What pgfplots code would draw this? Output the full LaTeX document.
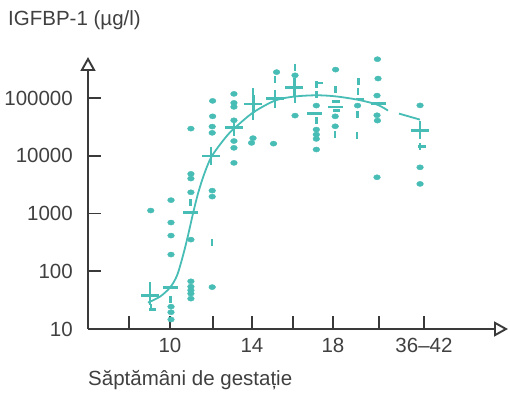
\documentclass[border=0pt]{standalone}
\usepackage{fontspec}
\setmainfont{Liberation Sans}
\usepackage{pgfplots}
\pgfplotsset{compat=1.18}
\usetikzlibrary{arrows.meta}
\definecolor{teal1}{RGB}{72,189,181}
\definecolor{axgray}{RGB}{58,58,58}
\definecolor{txtgray}{RGB}{64,64,64}
\begin{document}
\begin{tikzpicture}
\useasboundingbox (-88bp,-65bp) rectangle (422bp,329bp);
\begin{axis}[
  at={(0,0)}, anchor=south west,
  width=420bp, height=272bp, scale only axis,
  xmin=6, xmax=26.49,
  ymode=log, ymin=10, ymax=517600,
  clip=false,
  axis lines=left,
  axis line style={line width=1.9bp, draw=axgray, -{Triangle[open, length=14bp, width=15bp, line width=1.9bp]}},
  tick align=inside, major tick length=13bp,
  tick style={line width=1.6bp, draw=axgray},
  yminorticks=false, xminorticks=false,
  xtick={8,10,12.1,14,16,17.95,20.2,22.39},
  xticklabels={,10,,14,,18,,36--42},
  ytick={10,100,1000,10000,100000},
  yticklabels={10,100,1000,10000,100000},
  tick label style={font=\fontsize{20.5bp}{24bp}\selectfont, text=txtgray},
  yticklabel style={anchor=east, inner sep=0pt, xshift=-15bp},
  xticklabel style={anchor=north, inner sep=0pt, yshift=-9bp},
]
% fitted curve
\addplot[smooth, teal1, line width=1.8bp, no marks] table[row sep=\\] {
x y \\
8.927 28.7 \\ 9.512 36.4 \\ 10.0 52.2 \\ 10.341 84.2 \\ 10.634 187 \\
10.878 416 \\ 11.122 1000 \\ 11.366 2222 \\ 11.659 4742 \\ 12.0 9343 \\
12.439 15700 \\ 12.829 23400 \\ 13.122 29730 \\ 14.049 56290 \\
15.122 90870 \\ 16.049 106600 \\ 17.122 112300 \\ 18.049 107900 \\
19.122 94560 \\ 20.098 77610 \\ 20.634 60970 \\
};
\addplot[teal1, line width=1.8bp, no marks] table[row sep=\\] {
x y \\ 21.171 54090 \\ 22.195 42560 \\
};
% individual values
\addplot[only marks, mark=*, mark size=2.7bp, teal1,
  mark options={xscale=1.25, yscale=0.95, fill=teal1, draw=none}] table[row sep=\\] {
x y \\
9.06 1130 \\
10.05 1710 \\ 10.05 700 \\ 10.05 416 \\ 10.05 195 \\ 10.05 24.4 \\ 10.05 19.5 \\ 10.05 14.6 \\
11.02 29700 \\ 11.02 4880 \\ 11.02 4050 \\ 11.02 2340 \\ 11.02 354 \\ 11.02 67.1 \\
11.02 54.3 \\ 11.02 46.9 \\ 11.02 41.1 \\ 11.02 33.6 \\
12.08 89800 \\ 12.08 48500 \\ 12.06 32200 \\ 12.06 25100 \\ 12.06 2500 \\ 12.06 1970 \\ 12.06 53.2 \\
13.12 118800 \\ 13.12 82900 \\ 13.12 70700 \\ 13.12 41400 \\ 13.12 18100 \\ 13.12 13800 \\ 13.12 7570 \\
14.05 20300 \\ 13.98 16800 \\
15.2 283000 \\ 15.05 16300 \\
16.1 249000 \\ 16.1 49900 \\
17.14 74500 \\ 17.14 28600 \\ 17.14 23400 \\ 17.14 19700 \\ 17.14 12900 \\
18.08 313000 \\ 18.06 48500 \\ 18.06 32600 \\
19.15 74500 \\
20.12 474000 \\ 20.15 219000 \\ 20.1 111000 \\ 20.1 50600 \\ 20.12 40900 \\ 20.1 4260 \\
22.2 75000 \\ 22.2 6340 \\ 22.2 3270 \\
};
% medians (crosses)
\addplot[only marks, mark=+, mark size=9bp, teal1, mark options={line width=2.7bp}] table[row sep=\\] {
x y \\
9.02 37.9 \\ 12.0 10000 \\ 13.12 31300 \\ 14.06 79000 \\ 15.12 98400 \\ 16.07 154500 \\ 22.2 27800 \\
};
% medians (bars)
\addplot[only marks, mark=-, mark size=7.5bp, teal1, mark options={line width=2.7bp}] table[row sep=\\] {
x y \\
10.03 52.1 \\ 11.02 1054 \\ 17.07 54100 \\ 18.05 70700 \\ 20.16 80600 \\
};
% short horizontal dashes
\addplot[only marks, mark=-, mark size=3.8bp, teal1, mark options={line width=2.4bp}] table[row sep=\\] {
x y \\
19.27 97200 \\ 18.1 88300 \\ 18.13 60950 \\ 22.3 14660 \\ 17.28 184100 \\ 9.15 21.7 \\
};
% short vertical dashes
\addplot[only marks, mark=|, mark size=3.5bp, teal1, mark options={line width=2.4bp}] table[row sep=\\] {
x y \\
9.02 56.5 \\ 9.06 23.5 \\ 10.03 32.4 \\ 11.0 1550 \\ 12.05 310 \\
14.06 131800 \\ 14.06 48000 \\ 15.12 210000 \\ 16.1 346000 \\ 16.1 94600 \\
17.14 170000 \\ 17.14 115400 \\ 17.14 40900 \\ 18.08 140900 \\ 18.06 23400 \\
19.19 191600 \\ 19.17 131800 \\ 19.15 52000 \\ 19.12 22500 \\ 22.2 14660 \\
};
\end{axis}
\node[anchor=base west, inner sep=0pt, font=\fontsize{20.5bp}{24bp}\selectfont, text=txtgray] at (-80bp,303bp) {IGFBP-1 (µg/l)};
\node[anchor=base west, inner sep=0pt, font=\fontsize{20.5bp}{24bp}\selectfont, text=txtgray] at (0bp,-56bp) {Săptămâni de gestație};
\end{tikzpicture}
\end{document}
